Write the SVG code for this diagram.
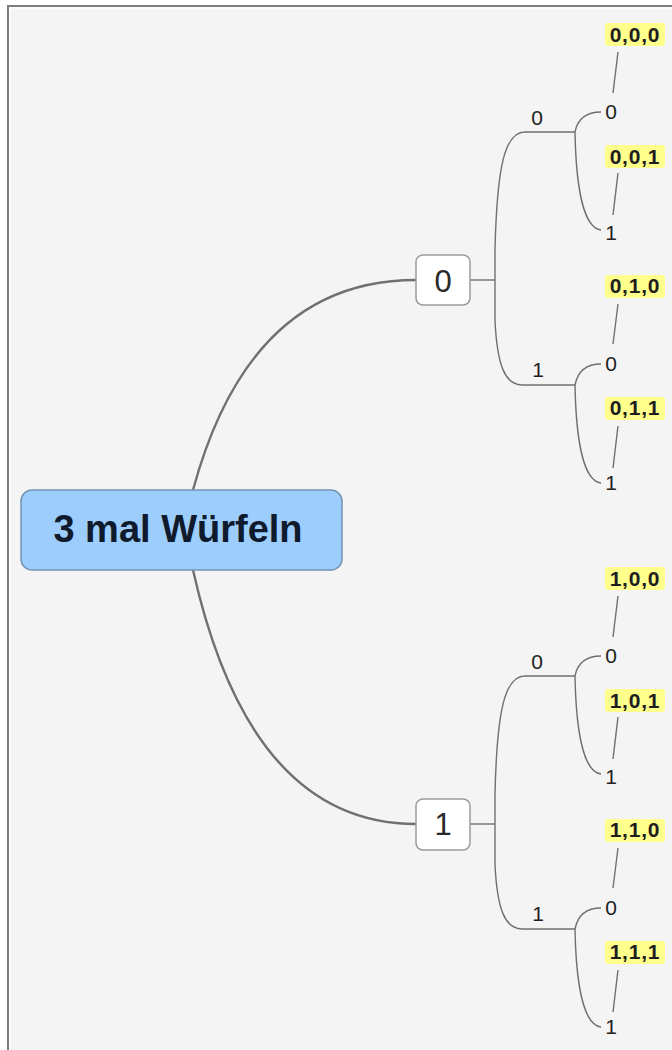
<svg xmlns="http://www.w3.org/2000/svg" width="672" height="1050" viewBox="0 0 672 1050">
<style>
.conn{fill:none;stroke:#6f6f6f;stroke-width:1.4}
.root-conn{fill:none;stroke:#707070;stroke-width:2.4}
.lbl{font-family:"Liberation Sans",Arial,sans-serif;font-size:21px;fill:#222;text-anchor:middle}
.leaf-bg{fill:#ffff8c}
.leaf-txt{font-family:"Liberation Sans",Arial,sans-serif;font-size:21px;font-weight:bold;fill:#1e1e1e;text-anchor:middle;letter-spacing:0.8px}
.node-box{fill:#ffffff;stroke:#9a9a9a;stroke-width:1.5}
.node-txt{font-family:"Liberation Sans",Arial,sans-serif;font-size:31px;fill:#2a2a2a;text-anchor:middle}
</style>
<rect x="0" y="0" width="672" height="1050" fill="#ffffff"/>
<rect x="8" y="6" width="664" height="1044" fill="#f4f4f4"/>
<path d="M8,1050 V6 H672" fill="none" stroke="#7d7d7d" stroke-width="2"/>
<path d="M10,1050 V8 H672" fill="none" stroke="#ffffff" stroke-width="1.5" opacity="0.8"/>

<g id="connectors">
<path class="root-conn" d="M193,490 Q250,280 416,280"/>
<path class="root-conn" d="M193,570 Q250,824 416,824"/>
<path class="conn" d="M470,280 H495"/>
<path class="conn" d="M495,280 V250 C497,165 505,132 525,132 H575"/>
<path class="conn" d="M495,280 V320 C497,365 505,385 522,385 H575"/>
<path class="conn" d="M575,132 C578,117 588,112 601,112"/>
<path class="conn" d="M575,132 C576,185 583,228 601,230"/>
<path class="conn" d="M575,385 C578,370 588,364 601,364"/>
<path class="conn" d="M575,385 C576,438 583,481 601,483"/>
<path class="conn" d="M618,52 L613,93"/>
<path class="conn" d="M618,173 L613,215"/>
<path class="conn" d="M618,304 L613,344"/>
<path class="conn" d="M618,426 L613,468"/>
<path class="conn" d="M470,824 H495"/>
<path class="conn" d="M495,824 V794 C497,709 505,676 525,676 H575"/>
<path class="conn" d="M495,824 V864 C497,909 505,929 522,929 H575"/>
<path class="conn" d="M575,676 C578,661 588,656 601,656"/>
<path class="conn" d="M575,676 C576,729 583,772 601,774"/>
<path class="conn" d="M575,929 C578,914 588,908 601,908"/>
<path class="conn" d="M575,929 C576,982 583,1025 601,1027"/>
<path class="conn" d="M618,596 L613,637"/>
<path class="conn" d="M618,717 L613,759"/>
<path class="conn" d="M618,848 L613,888"/>
<path class="conn" d="M618,970 L613,1012"/>
<text class="lbl" x="537" y="125">0</text>
<text class="lbl" x="538" y="377">1</text>
<text class="lbl" x="537" y="669">0</text>
<text class="lbl" x="538" y="921">1</text>
</g>

<g id="root">
<rect x="21" y="490" width="321" height="80" rx="11" fill="#9ccdfc" stroke="#7393b3" stroke-width="1.5"/>
<text x="178" y="542" font-family="'Liberation Sans',Arial,sans-serif" font-size="38" font-weight="bold" fill="#0f1a2c" text-anchor="middle">3 mal Würfeln</text>
</g>

<g id="n0">
<rect class="node-box" x="416" y="255" width="54" height="50" rx="7"/>
<text class="node-txt" x="443" y="292">0</text>
</g>
<g id="n1">
<rect class="node-box" x="416" y="799" width="54" height="51" rx="7"/>
<text class="node-txt" x="443" y="835">1</text>
</g>

<g id="n00"><text class="lbl" x="611" y="119">0</text></g>
<g id="n01"><text class="lbl" x="611" y="240">1</text></g>
<g id="n10"><text class="lbl" x="611" y="371">0</text></g>
<g id="n11"><text class="lbl" x="611" y="490">1</text></g>
<g id="n100"><text class="lbl" x="611" y="663">0</text></g>
<g id="n101"><text class="lbl" x="611" y="784">1</text></g>
<g id="n110"><text class="lbl" x="611" y="915">0</text></g>
<g id="n111"><text class="lbl" x="611" y="1034">1</text></g>

<g id="leaf000"><rect class="leaf-bg" x="605" y="23" width="60" height="23" rx="3"/><text class="leaf-txt" x="635" y="42">0,0,0</text></g>
<g id="leaf001"><rect class="leaf-bg" x="605" y="145" width="60" height="23" rx="3"/><text class="leaf-txt" x="635" y="164">0,0,1</text></g>
<g id="leaf010"><rect class="leaf-bg" x="605" y="275" width="60" height="23" rx="3"/><text class="leaf-txt" x="635" y="293">0,1,0</text></g>
<g id="leaf011"><rect class="leaf-bg" x="605" y="397" width="60" height="23" rx="3"/><text class="leaf-txt" x="635" y="415">0,1,1</text></g>
<g id="leaf100"><rect class="leaf-bg" x="605" y="567" width="60" height="23" rx="3"/><text class="leaf-txt" x="635" y="586">1,0,0</text></g>
<g id="leaf101"><rect class="leaf-bg" x="605" y="689" width="60" height="23" rx="3"/><text class="leaf-txt" x="635" y="708">1,0,1</text></g>
<g id="leaf110"><rect class="leaf-bg" x="605" y="819" width="60" height="23" rx="3"/><text class="leaf-txt" x="635" y="837">1,1,0</text></g>
<g id="leaf111"><rect class="leaf-bg" x="605" y="941" width="60" height="23" rx="3"/><text class="leaf-txt" x="635" y="959">1,1,1</text></g>
</svg>
